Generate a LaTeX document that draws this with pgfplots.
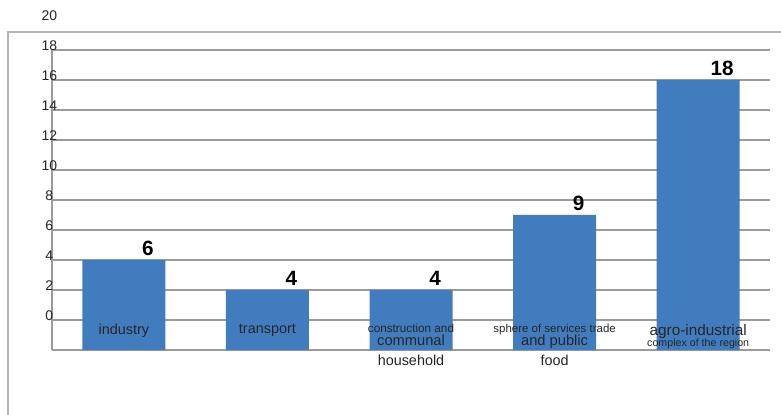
\documentclass[border=0pt]{standalone}
\usepackage{pgfplots}
\pgfplotsset{compat=1.18}
\usepackage{fontspec}
\setmainfont{Liberation Sans}
\definecolor{barblue}{RGB}{65,125,190}
\definecolor{gridgray}{RGB}{155,155,155}
\definecolor{framegray}{RGB}{180,180,180}
\newcommand{\fs}[1]{\fontsize{#1}{13}\selectfont}
\pgfplotsset{common/.style={
  at={(39pt,48pt)}, anchor=south west,
  width=538.5pt, height=225pt, scale only axis,
  xmin=-0.5, xmax=4.5, ymin=0, ymax=20,
  /pgf/number format/assume math mode=true,
  major tick length=0pt, tick style={draw=none},
}}
\begin{document}
\begin{tikzpicture}
\useasboundingbox (0,0) rectangle (585.75pt,310.5pt);
\draw[framegray, line width=1pt] (6pt,-5pt) -- (6pt,286.5pt) -- (600pt,286.5pt);
\begin{axis}[
  common,
  ytick={0,2,...,20},
  xtick=\empty,
  ymajorgrids, grid style={gridgray, line width=1.1pt},
  axis x line*=bottom, axis y line*=left,
  axis line style={gridgray, line width=1.1pt, -},
  ybar, bar width=62.25pt,
  nodes near coords,
  nodes near coords style={font=\bfseries\fontsize{15.5}{15.5}\selectfont, xshift=18pt, text=black},
  yticklabel style={anchor=center, xshift=-2pt, yshift=26pt, font=\fontsize{10.5}{12}\selectfont, text=black!85},
]
\addplot[fill=barblue, draw=none] coordinates {(0,6) (1,4) (2,4) (3,9) (4,18)};
\end{axis}
\begin{axis}[
  common,
  ytick=\empty,
  xtick={0,1,2,3,4},
  axis line style={draw=none},
  xticklabels={
    {industry},
    {transport},
    {{\fs{8.8}construction and}\\[-3.5pt]{\fs{11}communal}\\[2pt]household},
    {{\fs{8.6}sphere of services trade}\\[-3.5pt]{\fs{11}and public}\\[2pt]food},
    {{\fs{11.5}agro-industrial}\\[-4.5pt]{\fs{8}complex of the region}}},
  xticklabel style={anchor=north, yshift=23pt, align=center, font=\fontsize{10.8}{13}\selectfont, text=black!85},
]
\end{axis}
\end{tikzpicture}
\end{document}
